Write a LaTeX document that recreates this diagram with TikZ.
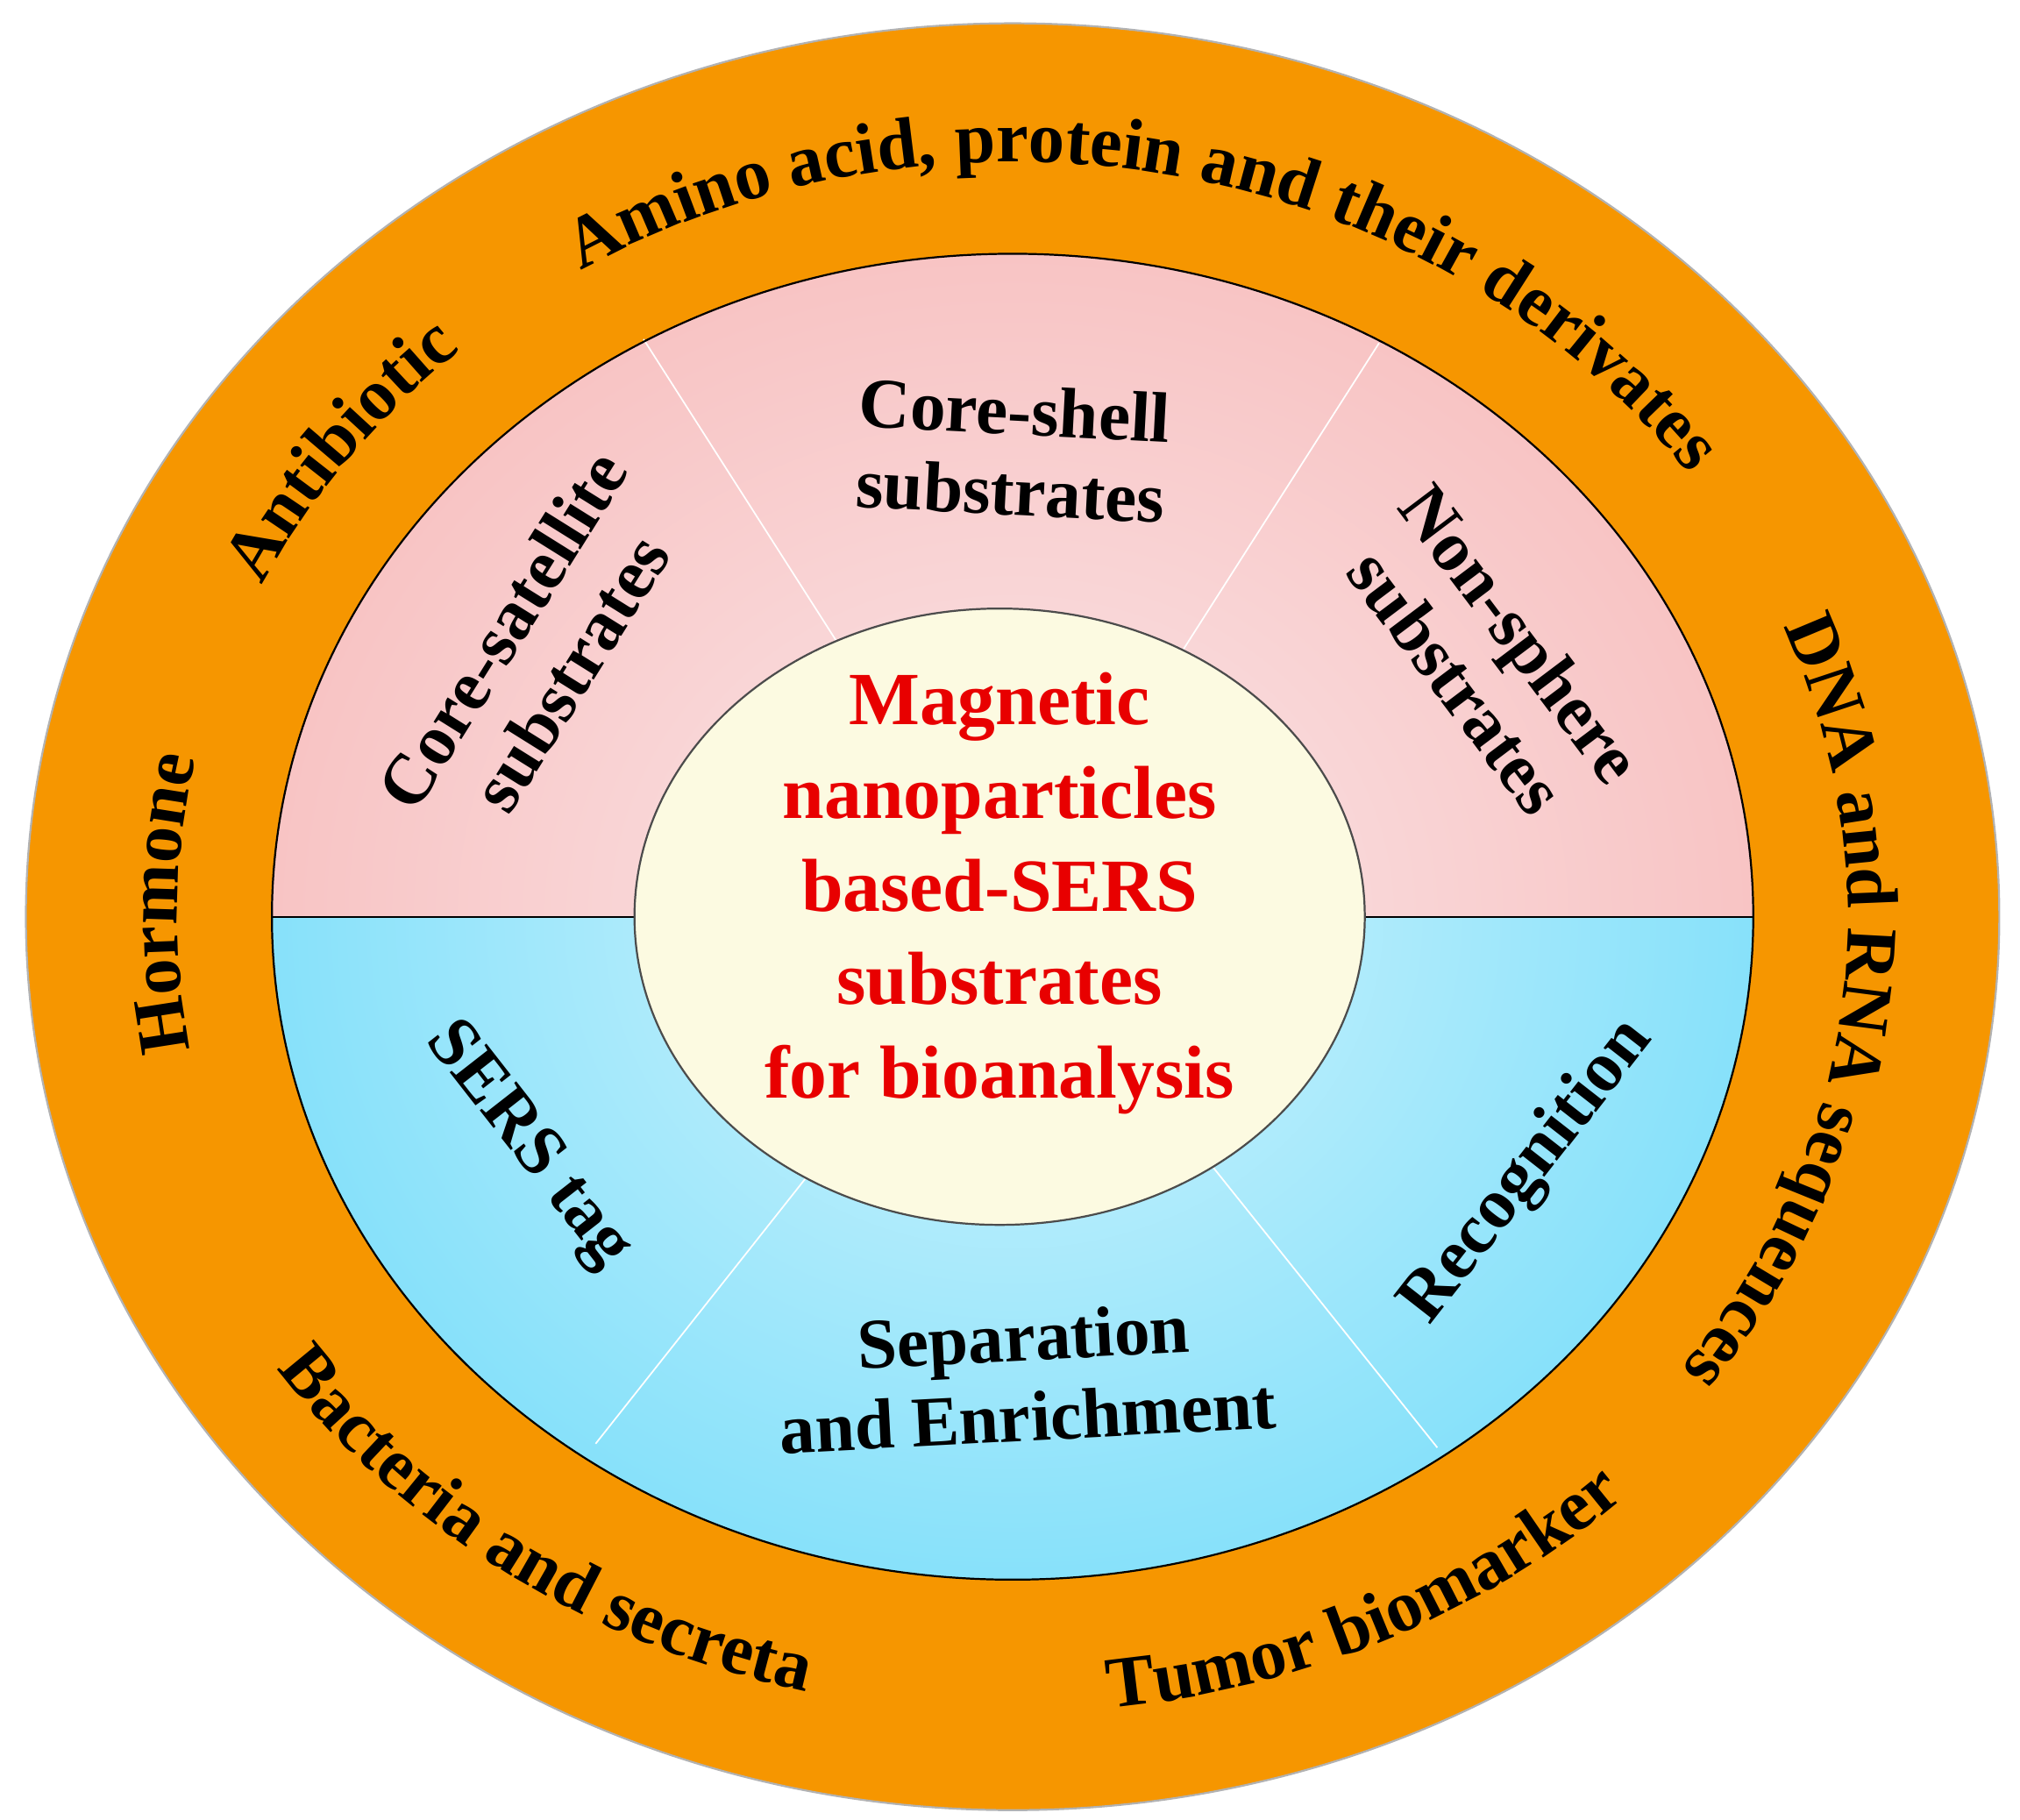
\documentclass[tikz,border=0pt]{standalone}
\usepackage{fontspec}
\setmainfont{Liberation Serif}
\usetikzlibrary{decorations.text}
\definecolor{orng}{RGB}{246,150,0}
\definecolor{pinkO}{RGB}{248,196,196}
\definecolor{pinkI}{RGB}{250,230,232}
\definecolor{cyanO}{RGB}{135,225,250}
\definecolor{cyanI}{RGB}{210,244,253}
\definecolor{ivory}{RGB}{252,250,225}
\definecolor{redT}{RGB}{232,0,0}
\tikzset{
  outer/.style={decorate,decoration={text along path,text align=center,
     text={|\fontsize{56}{56}\selectfont\bfseries|#1}}},
  inner/.style={font=\fontsize{55}{62}\selectfont\bfseries,align=center},
}
\begin{document}
\begin{tikzpicture}[x=1pt,y=1pt]
\useasboundingbox (-782,-697) rectangle (778,708);
\fill[orng,draw=gray!60,line width=1.5] (0,0) ellipse [x radius=762,y radius=690];
\begin{scope}
\clip (-600,0) rectangle (600,560);
\shade[inner color=pinkI,outer color=pinkO] (0,0) ellipse [x radius=572,y radius=512];
\end{scope}
\begin{scope}
\clip (-600,0) rectangle (600,-560);
\shade[inner color=cyanI,outer color=cyanO] (0,0) ellipse [x radius=572,y radius=512];
\end{scope}
\draw[white,line width=1.2] (0,0) -- (-285,446);
\draw[white,line width=1.2] (0,0) -- (283,443);
\draw[white,line width=1.2] (0,0) -- (-322,-407);
\draw[white,line width=1.2] (0,0) -- (328,-410);
\draw[black,line width=1.5] (-572,0) -- (572,0);
\draw[black,line width=1.5] (0,0) ellipse [x radius=572,y radius=512];
\fill[ivory,draw=black!70,line width=1.5] (-10,0) ellipse [x radius=282,y radius=238];
\node[text=redT,font=\fontsize{58}{72}\selectfont\bfseries,align=center] (c) at (-10,18)
 {Magnetic\\nanoparticles\\based-SERS\\substrates\\for bioanalysis};
\node[inner,rotate=-3] (cs) at (0,360) {Core-shell\\substrates};
\node[inner,rotate=58] (csat) at (-368,205) {Core-satellite\\substrates};
\node[inner,rotate=-53] (ns) at (368,200) {Non-sphere\\substrates};
\node[inner,rotate=-52] (tag) at (-375,-177) {SERS tag};
\node[inner,rotate=3] (sep) at (10,-355) {Separation\\and Enrichment};
\node[inner,rotate=52] (rec) at (398,-197) {Recognition};
% outer texts, clockwise on top
\path[outer={Hormone}] (199:645 and 583) arc[start angle=199,end angle=159,x radius=645,y radius=583];
\path[outer={Antibiotic}] (166:645 and 583) arc[start angle=166,end angle=120,x radius=645,y radius=583];
\path[outer={Amino acid, protein and their derivates}] (148:645 and 583) arc[start angle=148,end angle=8,x radius=645,y radius=583];
\path[outer={DNA and RNA sequences}] (30:645 and 583) arc[start angle=30,end angle=-44,x radius=645,y radius=583];
% bottom, counterclockwise
\path[outer={Bacteria and secreta}] (-160:690 and 615) arc[start angle=-160,end angle=-90,x radius=690,y radius=615];
\path[outer={Tumor biomarker}] (-92:690 and 615) arc[start angle=-92,end angle=-38,x radius=690,y radius=615];
\end{tikzpicture}
\end{document}
